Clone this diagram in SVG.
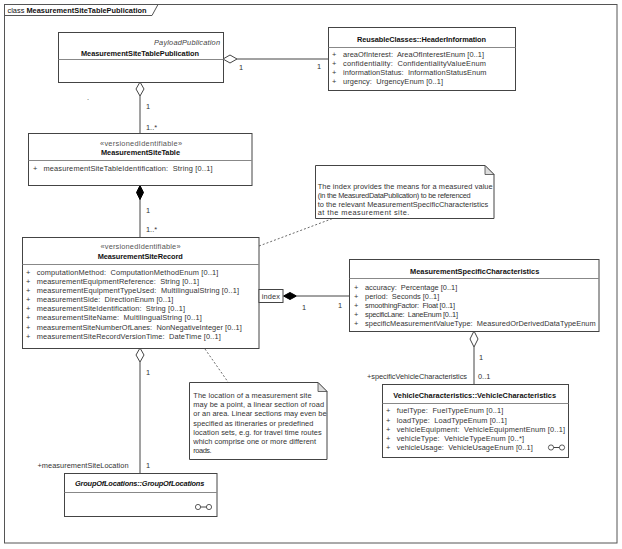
<svg xmlns="http://www.w3.org/2000/svg" width="622" height="549" viewBox="0 0 622 549">
<style>
text{font-family:"Liberation Sans",Arial,sans-serif;font-size:7.4px;fill:#333;white-space:pre}
.t{font-weight:bold;fill:#111}
.ti{font-weight:bold;font-style:italic;fill:#111}
.st{fill:#555}
.m{text-anchor:middle}
.e{text-anchor:end}
.box{fill:#fff;stroke:#444;stroke-width:1}
.div{stroke:#888;stroke-width:1}
.ln{stroke:#444;stroke-width:1;fill:none}
.dot{stroke:#444;stroke-width:0.8;fill:none;stroke-dasharray:2,2}
.note{fill:#fff;stroke:#444;stroke-width:1}
.ear{fill:#ddd;stroke:#444;stroke-width:0.8}
.od{fill:#fff;stroke:#444;stroke-width:1}
.fd{fill:#000;stroke:#000;stroke-width:1}
.icon{fill:#fff;stroke:#333;stroke-width:0.8}
</style>
<rect x="0" y="0" width="622" height="549" fill="#fff"/>
<g id="frame">
<rect x="4.5" y="4.5" width="612.5" height="538.5" fill="none" stroke="#555" stroke-width="1"/>
<path d="M4.5 15.5 H152 L158 4.5" fill="none" stroke="#555" stroke-width="1"/>
<text x="7.5" y="12.8" textLength="139" style="fill:#111">class <tspan class="t">MeasurementSiteTablePublication</tspan></text>
</g>
<g id="connectors">
<line class="ln" x1="237" y1="59" x2="328" y2="59"/>
<path class="od" d="M223 59 L230 55 L237 59 L230 63 Z"/>
<text x="239" y="69.5">1</text>
<text x="317" y="68.5">1</text>
<line class="ln" x1="140" y1="96" x2="140" y2="133"/>
<path class="od" d="M140 82 L144 89 L140 96 L136 89 Z"/>
<text x="146" y="108.5">1</text>
<text x="146" y="130">1..*</text>
<line class="ln" x1="140" y1="199" x2="140" y2="237"/>
<path class="fd" d="M140 185.5 L143.5 192.5 L140 199.5 L136.5 192.5 Z"/>
<text x="146" y="212.5">1</text>
<text x="146" y="232">1..*</text>
<line class="ln" x1="297" y1="296" x2="349" y2="296"/>
<path class="fd" d="M283.5 296 L290 292.5 L296.5 296 L290 299.5 Z"/>
<text x="302" y="310">1</text>
<text x="338" y="307.5">1</text>
<line class="ln" x1="474" y1="347" x2="474" y2="384"/>
<path class="od" d="M474 331 L478 339 L474 347 L470 339 Z"/>
<text x="479" y="359.5">1</text>
<text x="478" y="379">0..1</text>
<text x="367" y="379" textLength="100">+specificVehicleCharacteristics</text>
<line class="ln" x1="140" y1="362" x2="140" y2="473"/>
<path class="od" d="M140 348 L144 355 L140 362 L136 355 Z"/>
<text x="146" y="374.5">1</text>
<text x="146" y="467.5">1</text>
<text x="37.5" y="468" textLength="91">+measurementSiteLocation</text>
<line class="dot" x1="259" y1="246" x2="334" y2="218"/>
<line class="dot" x1="205" y1="349" x2="228" y2="382"/>
<text x="87" y="100">.</text>
</g>
<g id="MeasurementSiteTablePublication">
<rect class="box" x="58.5" y="32.5" width="165" height="50"/>
<line class="div" x1="58.5" y1="59.5" x2="223.5" y2="59.5"/>
<text x="154" y="44.5" textLength="66" style="font-style:italic;fill:#444">PayloadPublication</text>
<text class="t" x="81" y="55.5" textLength="118">MeasurementSiteTablePublication</text>
</g>
<g id="HeaderInformation">
<rect class="box" x="328.5" y="27.5" width="187" height="63"/>
<line class="div" x1="328.5" y1="47.5" x2="515.5" y2="47.5"/>
<text class="t" x="357" y="41.8" textLength="129">ReusableClasses::HeaderInformation</text>
<text x="332" y="56.8">+</text><text x="343" y="56.8" textLength="141">areaOfInterest:  AreaOfInterestEnum [0..1]</text>
<text x="332" y="65.8">+</text><text x="343" y="65.8" textLength="143">confidentiality:  ConfidentialityValueEnum</text>
<text x="332" y="74.8">+</text><text x="343" y="74.8" textLength="143.5">informationStatus:  InformationStatusEnum</text>
<text x="332" y="83.8">+</text><text x="343" y="83.8" textLength="100">urgency:  UrgencyEnum [0..1]</text>
</g>
<g id="MeasurementSiteTable">
<rect class="box" x="28.5" y="133.5" width="223.5" height="52"/>
<line class="div" x1="28.5" y1="160.5" x2="252" y2="160.5"/>
<text class="st" x="100" y="145.5" textLength="82">«versionedIdentifiable»</text>
<text class="t" x="101" y="155.2" textLength="79">MeasurementSiteTable</text>
<text x="33" y="170.8">+</text><text x="43.5" y="170.8" textLength="169">measurementSiteTableIdentification:  String [0..1]</text>
</g>
<g id="MeasurementSiteRecord">
<rect class="box" x="22.5" y="237.5" width="236.5" height="111"/>
<line class="div" x1="22.5" y1="264.5" x2="259" y2="264.5"/>
<text class="st" x="100.5" y="248.5" textLength="80">«versionedIdentifiable»</text>
<text class="t" x="97.7" y="258.6" textLength="85">MeasurementSiteRecord</text>
<text x="26" y="275">+</text><text x="36.7" y="275" textLength="181.7">computationMethod:  ComputationMethodEnum [0..1]</text>
<text x="26" y="284">+</text><text x="36.7" y="284" textLength="162.3">measurementEquipmentReference:  String [0..1]</text>
<text x="26" y="293">+</text><text x="36.7" y="293" textLength="202.3">measurementEquipmentTypeUsed:  MultilingualString [0..1]</text>
<text x="26" y="302">+</text><text x="36.7" y="302" textLength="136.7">measurementSide:  DirectionEnum [0..1]</text>
<text x="26" y="311.2">+</text><text x="36.7" y="311.2" textLength="148.3">measurementSiteIdentification:  String [0..1]</text>
<text x="26" y="320.3">+</text><text x="36.7" y="320.3" textLength="165">measurementSiteName:  MultilingualString [0..1]</text>
<text x="26" y="329.5">+</text><text x="36.7" y="329.5" textLength="205">measurementSiteNumberOfLanes:  NonNegativeInteger [0..1]</text>
<text x="26" y="338.7">+</text><text x="36.7" y="338.7" textLength="184">measurementSiteRecordVersionTime:  DateTime [0..1]</text>
<rect class="box" x="259" y="289.5" width="24" height="13"/>
<text x="261.7" y="298.6" textLength="18.3">index</text>
</g>
<g id="MeasurementSpecificCharacteristics">
<rect class="box" x="349.5" y="259.5" width="249.5" height="72"/>
<line class="div" x1="349.5" y1="278.5" x2="599" y2="278.5"/>
<text class="t" x="410" y="273.5" textLength="129.3">MeasurementSpecificCharacteristics</text>
<text x="354" y="290.3">+</text><text x="365" y="290.3" textLength="92.3">accuracy:  Percentage [0..1]</text>
<text x="354" y="299">+</text><text x="365" y="299" textLength="74.3">period:  Seconds [0..1]</text>
<text x="354" y="308">+</text><text x="365" y="308" textLength="90">smoothingFactor:  Float [0..1]</text>
<text x="354" y="317">+</text><text x="365" y="317" textLength="93">specificLane:  LaneEnum [0..1]</text>
<text x="354" y="326.3">+</text><text x="365" y="326.3" textLength="230.7">specificMeasurementValueType:  MeasuredOrDerivedDataTypeEnum</text>
</g>
<g id="VehicleCharacteristics">
<rect class="box" x="382.5" y="384.5" width="186" height="73"/>
<line class="div" x1="382.5" y1="403.5" x2="568.5" y2="403.5"/>
<text class="t" x="393.3" y="397.7" textLength="162.7">VehicleCharacteristics::VehicleCharacteristics</text>
<text x="386" y="413.3">+</text><text x="396.7" y="413.3" textLength="106.7">fuelType:  FuelTypeEnum [0..1]</text>
<text x="386" y="422.6">+</text><text x="396.7" y="422.6" textLength="110">loadType:  LoadTypeEnum [0..1]</text>
<text x="386" y="431.9">+</text><text x="396.7" y="431.9" textLength="168.3">vehicleEquipment:  VehicleEquipmentEnum [0..1]</text>
<text x="386" y="441.3">+</text><text x="396.7" y="441.3" textLength="127.3">vehicleType:  VehicleTypeEnum [0..*]</text>
<text x="386" y="450.3">+</text><text x="396.7" y="450.3" textLength="136">vehicleUsage:  VehicleUsageEnum [0..1]</text>
<line class="ln" x1="552" y1="447.5" x2="561" y2="447.5"/>
<circle class="icon" cx="551" cy="447.5" r="2.6"/>
<circle class="icon" cx="562" cy="447.5" r="2.6"/>
</g>
<g id="GroupOfLocations">
<rect class="box" x="64.5" y="473.5" width="152.5" height="43"/>
<line class="div" x1="64.5" y1="492.5" x2="217" y2="492.5"/>
<text class="ti" x="75" y="485.6" textLength="129.3">GroupOfLocations::GroupOfLocations</text>
<line class="ln" x1="199" y1="507" x2="208" y2="507"/>
<circle class="icon" cx="198" cy="507" r="2.6"/>
<circle class="icon" cx="209" cy="507" r="2.6"/>
</g>
<g id="note1">
<path class="note" d="M315.5 165.5 H485 L494 174.5 V218.5 H315.5 Z"/>
<path class="ear" d="M485 165.5 V174.5 H494 Z"/>
<text x="317.7" y="189.3" textLength="175">The index provides the means for a measured value</text>
<text x="317.7" y="197.6" textLength="153">(in the MeasuredDataPublication) to be referenced</text>
<text x="317.7" y="206.6" textLength="170.6">to the relevant MeasurementSpecificCharacteristics</text>
<text x="317.7" y="214.9" textLength="91.6">at the measurement site.</text>
</g>
<g id="note2">
<path class="note" d="M189.5 382.5 H318 L327 391.5 V459.5 H189.5 Z"/>
<path class="ear" d="M318 382.5 V391.5 H327 Z"/>
<text x="193.3" y="398.3" textLength="118.3">The location of a measurement site</text>
<text x="193.3" y="407.3" textLength="130.7">may be a point, a linear section of road</text>
<text x="193.3" y="416.3" textLength="133.3">or an area. Linear sections may even be</text>
<text x="193.3" y="425.6" textLength="120">specified as itineraries or predefined</text>
<text x="193.3" y="434.9" textLength="128.3">location sets, e.g. for travel time routes</text>
<text x="193.3" y="444.3" textLength="122.7">which comprise one or more different</text>
<text x="193.3" y="453.3" textLength="18.3">roads.</text>
</g>
</svg>
